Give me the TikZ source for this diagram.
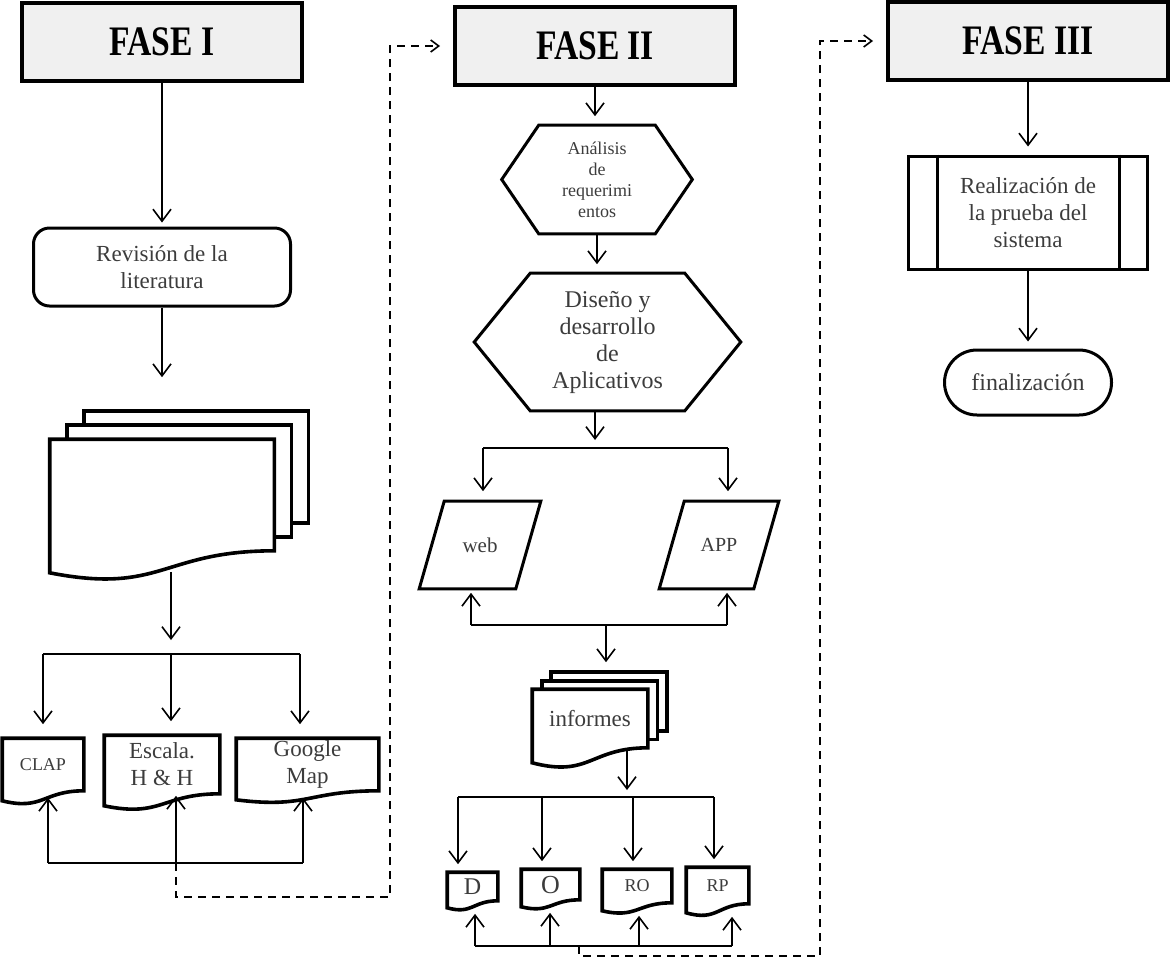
\documentclass[tikz,border=0pt]{standalone}
\usepackage{fontspec}
\setmainfont{Liberation Serif}
\newfontfamily\fasefont[FakeStretch=0.8]{Liberation Serif}
\usetikzlibrary{arrows.meta,calc,shapes.misc,backgrounds}
\definecolor{txt}{HTML}{3C3C3C}
\definecolor{fasegray}{HTML}{F0F0F0}
\tikzset{
  fase/.style={draw,line width=2pt,fill=fasegray,minimum width=140pt,minimum height=39pt,
    font=\fasefont\bfseries\fontsize{21}{24}\selectfont},
  txtnode/.style={align=center,text=txt,inner sep=0pt,font=\fontsize{11.5}{13.5}\selectfont},
  shp/.style={line width=1.5pt},
  docline/.style={line width=1.8pt,fill=white},
  arr/.style={-{Straight Barb[length=6pt,width=9pt]}},
  dasharr/.style={-{Straight Barb[length=4pt,width=6pt]},dash pattern=on 4pt off 3pt},
}
\begin{document}
\begin{tikzpicture}[x=0.5pt,y=-0.5pt,line width=0.8pt]
\useasboundingbox (0,0) rectangle (1170,959);
\node[fase] (f1) at (162,42) {FASE I};
\node[fase] (f2) at (595,46) {FASE II};
\node[fase] (f3) at (1028,41) {FASE III};

\node[txtnode,draw=black,shp,rounded corners=8pt,minimum width=128.5pt,minimum height=39pt] (rev) at (162,267) {Revisión de la\\literatura};
\node[txtnode,minimum width=111.5pt,minimum height=55pt] (lit) at (162,495) {};
\node[txtnode,font=\fontsize{9}{11}\selectfont,minimum width=40pt,minimum height=25.5pt] (clap) at (43,764.5) {CLAP};
\node[txtnode,minimum width=57pt,minimum height=28.5pt] (escala) at (162,764.5) {Escala.\\H \& H};
\node[txtnode,minimum width=70.5pt,minimum height=25.5pt] (google) at (307.5,764.5) {Google\\Map};
\draw[arr,shorten >=2pt] (f1) -- (rev);
\draw[arr,shorten >=31pt] (rev) -- (lit);
\coordinate (b1) at (43,654);
\coordinate (b2) at (171,654);
\coordinate (b3) at (300,654);
\draw[arr,shorten >=7pt] ($(b2 |- lit.south)+(0,21)$) -- (b2);
\draw (b1) -- (b3);
\foreach \b/\n in {b1/clap,b2/escala,b3/google}
  \draw[arr,shorten >=7pt] (\b) -- (\b |- \n.north);
\coordinate (c1) at (48,863);
\coordinate (c2) at (176,863);
\coordinate (c3) at (303,863);
\draw (c1) -- (c3);
\foreach \cc/\n/\d in {c1/clap/7,c2/escala/2,c3/google/7}
  \draw[arr] (\cc) -- ($(\cc |- \n.south)+(0,\d)$);
\draw[dasharr,shorten >=6.5pt] (c2) -- ++(0,34) -| ($(f2.west)+(-63,0)$) -- (f2.west);

\node[txtnode,font=\fontsize{9}{10.5}\selectfont,minimum width=94.5pt,minimum height=53.5pt] (ana) at (597,179.5) {Análisis\\de\\requerimi\\entos};
\node[txtnode,font=\fontsize{12}{13.5}\selectfont,minimum width=132.5pt,minimum height=68pt] (dis) at (607.5,342) {Diseño y\\desarrollo\\de\\Aplicativos};
\node[txtnode,font=\fontsize{10.5}{12}\selectfont,minimum width=60pt,minimum height=43pt] (web) at (480,545) {web};
\node[txtnode,font=\fontsize{10}{12}\selectfont,minimum width=59pt,minimum height=43pt] (app) at (719,545) {APP};
\node[txtnode,minimum width=57pt,minimum height=28.5pt] (inf) at (590,718.5) {informes};
\node[txtnode,font=\fontsize{12}{14}\selectfont,minimum width=24.5pt,minimum height=13.5pt] (dD) at (472.5,886.5) {D};
\node[txtnode,font=\fontsize{13}{15}\selectfont,minimum width=28.5pt,minimum height=14.5pt] (dO) at (550.5,884.5) {O};
\node[txtnode,font=\fontsize{9}{11}\selectfont,minimum width=34pt,minimum height=16pt] (dRO) at (637,886) {RO};
\node[txtnode,font=\fontsize{9}{11}\selectfont,minimum width=30.5pt,minimum height=17.5pt] (dRP) at (717.5,885.5) {RP};
\foreach \n/\ch in {ana/37,dis/56}
  \draw[shp] (\n.west) -- ($(\n.north west)+(\ch,0)$) -- ($(\n.north east)+(-\ch,0)$) -- (\n.east)
    -- ($(\n.south east)+(-\ch,0)$) -- ($(\n.south west)+(\ch,0)$) -- cycle;
\foreach \n in {web,app}
  \draw[shp] ($(\n.north west)+(25,0)$) -- (\n.north east) -- ($(\n.south east)+(-25,0)$) -- (\n.south west) -- cycle;
\draw[arr,shorten >=4.5pt] (f2.south) -- (f2.south |- ana.north);
\draw[arr,shorten >=4.5pt] (ana.south) -- (ana.south |- dis.north);
\coordinate (a0) at (595,448);
\coordinate (a1) at (483,448);
\coordinate (a2) at (728,448);
\draw[arr,shorten >=4pt] (dis.south -| a0) -- (a0);
\draw (a1) -- (a2);
\draw[arr,shorten >=5pt] (a1) -- (a1 |- web.north);
\draw[arr,shorten >=5pt] (a2) -- (a2 |- app.north);
\coordinate (d0) at (606,625);
\coordinate (d1) at (471,625);
\coordinate (d2) at (727,625);
\draw (d1) -- (d2);
\draw[arr,shorten >=2pt] (d1) -- (d1 |- web.south);
\draw[arr,shorten >=2pt] (d2) -- (d2 |- app.south);
\draw[arr,shorten >=13.5pt] (d0) -- (d0 |- inf.north);
\coordinate (e0) at (627,797);
\coordinate (e1) at (458,797);
\coordinate (e2) at (542,797);
\coordinate (e3) at (633,797);
\coordinate (e4) at (714,797);
\draw[arr,shorten >=3.5pt] ($(e0 |- inf.south)+(0,2)$) -- (e0);
\draw (e1) -- (e4);
\foreach \e/\n in {e1/dD,e2/dO,e3/dRO,e4/dRP}
  \draw[arr,shorten >=4pt] (\e) -- (\e |- \n.north);
\coordinate (g0) at (579,946);
\coordinate (g1) at (475,946);
\coordinate (g2) at (550,946);
\coordinate (g3) at (639,946);
\coordinate (g4) at (732,946);
\draw (g1) -- (g4);
\foreach \g/\n in {g1/dD,g2/dO,g3/dRO,g4/dRP}
  \draw[arr,shorten >=6.5pt] (\g) -- (\g |- \n.south);
\draw[dasharr,shorten >=6.5pt] (g0) -- ++(0,10) -| ($(f3.west)+(-66,0)$) -- (f3.west);

\node[txtnode,draw=black,shp,minimum width=119.5pt,minimum height=56.5pt] (pru) at (1028,212.5) {Realización de\\la prueba del\\sistema};
\node[txtnode,draw=black,shp,rounded rectangle,font=\fontsize{12}{14}\selectfont,minimum width=83.5pt,minimum height=32.5pt] (fin) at (1028,382.5) {finalización};
\draw[shp] ($(pru.north west)+(30,0)$) -- ($(pru.south west)+(30,0)$);
\draw[shp] ($(pru.north east)+(-30,0)$) -- ($(pru.south east)+(-30,0)$);
\draw[arr,shorten >=4pt] (f3) -- (pru);
\draw[arr,shorten >=3.5pt] (pru) -- (fin);

\begin{scope}[on background layer]
\foreach \k in {2,1}
  \draw[docline] ($(lit.north west)+(17*\k,-14*\k)$) rectangle ($(lit.south east)+(17*\k,-14*\k)$);
\foreach \k in {2,1}
  \draw[docline] ($(inf.north west)+(9.5*\k,-8.5*\k)$) rectangle ($(inf.south east)+(9.5*\k,-8.5*\k)$);
\foreach \n/\a in {lit/22,clap/10,escala/12,google/9,inf/15,dD/7,dO/7,dRO/8,dRP/9}
  \draw[docline] (\n.north west) -- (\n.north east) -- (\n.south east)
    .. controls ($(\n.south east)!0.5!(\n.south west)$) and ($(\n.south east)!0.5!(\n.south west)+(0,2*\a)$)
    .. ($(\n.south west)+(0,\a)$) -- cycle;
\end{scope}
\end{tikzpicture}
\end{document}
